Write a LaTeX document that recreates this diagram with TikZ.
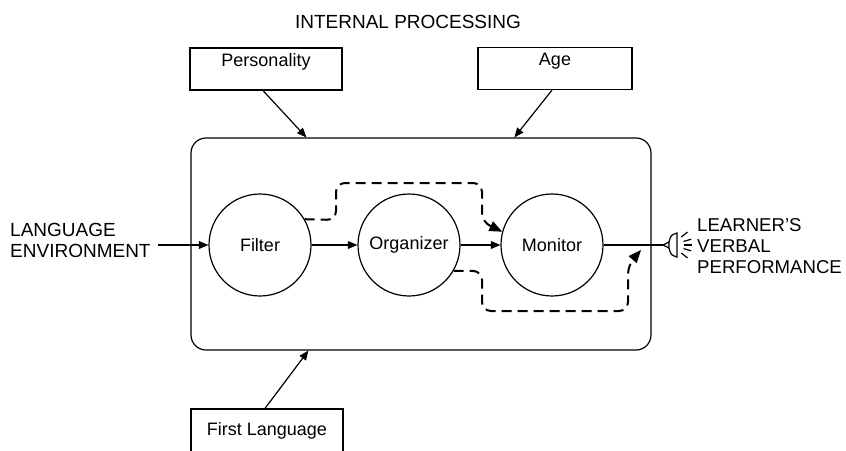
\documentclass[tikz,border=0pt]{standalone}
\usepackage{fontspec}
\setmainfont{Liberation Sans}
\usetikzlibrary{arrows}

\begin{document}
\begin{tikzpicture}[x=1pt,y=-1pt,
  every node/.style={font=\fontsize{18}{21}\selectfont},
  caps/.style={font=\fontsize{19}{21}\selectfont},
  stage/.style={draw,circle,line width=1.2pt,minimum size=102pt,inner sep=0pt},
  factor/.style={draw,line width=1.2pt,minimum width=152pt,minimum height=42pt,text height=12pt,text depth=18pt,inner sep=0pt},
  flow/.style={line width=1.2pt,-triangle 45},
  feed/.style={line width=2pt,dash pattern=on 10pt off 6pt,rounded corners=9pt,-triangle 45}]
\useasboundingbox (0,0) rectangle (846,450);
\node[caps] (t) at (408,22) {INTERNAL PROCESSING};
\node[factor] (P) at (266,69) {Personality};
\node[factor,minimum width=154pt] (A) at (555,68.5) {Age};
\node[factor,minimum height=58pt] (L) at (267,438) {First Language};
\node[draw,line width=1.2pt,rounded corners=15pt,minimum width=460pt,minimum height=212pt] (B) at (421,244) {};
\node[stage] (F) at (260,245) {Filter};
\node[stage] (O) at (409,245) {Organizer};
\node[stage] (M) at (552,245) {Monitor};
\node[caps,align=left,anchor=west,inner sep=0pt] (E) at (10,240) {LANGUAGE\\ENVIRONMENT};
\node[caps,font=\fontsize{18.6}{21}\selectfont,align=left,anchor=west,inner sep=0pt] (V) at (697,246) {LEARNER'S\\VERBAL\\PERFORMANCE};
\coordinate (S) at (663,245);
\coordinate (R) at (641,250);
\draw[flow] ([xshift=-3pt]P.south) -- ([xshift=116pt]B.north west);
\draw[flow] ([xshift=-3pt]A.south) -- ([xshift=324pt]B.north west);
\draw[flow] ([xshift=-2pt]L.north) -- ([xshift=118pt]B.south west);
\draw[flow,shorten <=7pt] (E.east |- F.west) -- (F);
\draw[flow] (F) -- (O);
\draw[flow] (O) -- (M);
\draw[line width=1.2pt] (M) -- (S);
\draw[feed] (F.30) -- (336,220) -- (336,183) -- (482,183) -- (482,222) -- (M.165);
\draw[feed] (O.330) -- (482,271) -- (482,311) -- (628,311) -- (628,265) -- (R);
\begin{scope}[shift={(S)},line width=1.2pt]
\draw (0,0) -- (6,-3) -- (6,3) -- cycle;
\draw (6,-3) .. controls (8,-10) .. (14,-12) -- (14,12) .. controls (8,10) .. (6,3);
\foreach \a in {-38,-16,0,16,38}
  \draw[shift={(8,0)}] (\a:13) -- (\a:21);
\end{scope}
\end{tikzpicture}
\end{document}
